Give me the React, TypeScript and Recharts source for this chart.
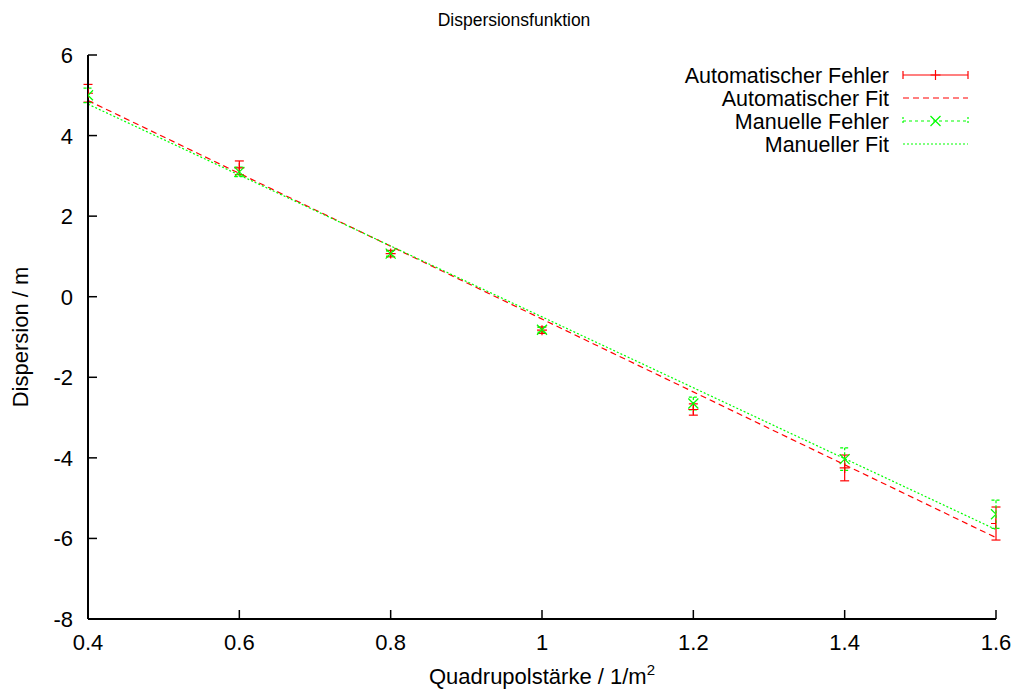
import React from "react";
import { ComposedChart, ErrorBar, Line, Scatter, XAxis, YAxis } from "recharts";

const staerke = [0.4, 0.6, 0.8, 1.0, 1.2, 1.4, 1.6];
const autoWerte = [5.05, 3.2, 1.07, -0.83, -2.8, -4.25, -5.63];
const autoFehler = [0.22, 0.17, 0.08, 0.08, 0.14, 0.32, 0.41];
const manuellWerte = [5.0, 3.1, 1.07, -0.82, -2.65, -4.03, -5.4];
const manuellFehler = [0.18, 0.12, 0.06, 0.06, 0.16, 0.28, 0.35];

// Fitgeraden: Endpunkte
const fitX = [0.4, 1.6];
const autoFit = [4.87, -5.98];
const manuellFit = [4.78, -5.78];

const xTicks = [0.4, 0.6, 0.8, 1, 1.2, 1.4, 1.6];
const yTicks = [-8, -6, -4, -2, 0, 2, 4, 6];

const W = 1018;
const H = 693;
const LEFT = 88;
const RIGHT = 996;
const TOP = 55;
const BOTTOM = 619;
const TICK = 9;
const FONT = "'Liberation Sans', Arial, Helvetica, sans-serif";
const RED = "#ff0000";
const GREEN = "#00ff00";

const autoDaten = staerke.map((x, i) => ({ x, y: autoWerte[i], err: autoFehler[i] }));
const manuellDaten = staerke.map((x, i) => ({ x, y: manuellWerte[i], err: manuellFehler[i] }));
const autoFitDaten = fitX.map((x, i) => ({ x, y: autoFit[i] }));
const manuellFitDaten = fitX.map((x, i) => ({ x, y: manuellFit[i] }));

function BottomTick({ x, y, payload }: any) {
  return (
    <g>
      <line x1={x} y1={y} x2={x} y2={y - TICK} stroke="#000" strokeWidth={1.5} />
      <text x={x} y={y + 31} textAnchor="middle" fontSize={22} fontFamily={FONT} fill="#000">
        {String(payload.value)}
      </text>
    </g>
  );
}

function TopTick({ x, y }: any) {
  return <line x1={x} y1={y} x2={x} y2={y + TICK} stroke="#000" strokeWidth={1.5} />;
}

function LeftTick({ x, y, payload }: any) {
  return (
    <g>
      <line x1={x} y1={y} x2={x + TICK} y2={y} stroke="#000" strokeWidth={1.5} />
      <text x={x - 15} y={y + 8} textAnchor="end" fontSize={22} fontFamily={FONT} fill="#000">
        {String(payload.value)}
      </text>
    </g>
  );
}

function RightTick({ x, y }: any) {
  return <line x1={x} y1={y} x2={x - TICK} y2={y} stroke="#000" strokeWidth={1.5} />;
}

function Plus({ cx, cy }: any) {
  const s = 5;
  return <path d={`M${cx - s},${cy}H${cx + s}M${cx},${cy - s}V${cy + s}`} stroke={RED} strokeWidth={1.2} fill="none" />;
}

function Kreuz({ cx, cy }: any) {
  const s = 5;
  return (
    <path
      d={`M${cx - s},${cy - s}L${cx + s},${cy + s}M${cx - s},${cy + s}L${cx + s},${cy - s}`}
      stroke={GREEN}
      strokeWidth={1.2}
      fill="none"
    />
  );
}

const legende = [
  { label: "Automatischer Fehler", color: RED, dash: undefined, marker: "plus", caps: true },
  { label: "Automatischer Fit", color: RED, dash: "6 4", marker: null, caps: false },
  { label: "Manuelle Fehler", color: GREEN, dash: "3 3", marker: "kreuz", caps: true },
  { label: "Manueller Fit", color: GREEN, dash: "2 2", marker: null, caps: false },
];

function Overlay() {
  const x1 = 903;
  const x2 = 968;
  return (
    <svg width={W} height={H} style={{ position: "absolute", left: 0, top: 0, pointerEvents: "none" }}>
      <text x={514} y={26} textAnchor="middle" fontSize={17.5} fontFamily={FONT}>
        Dispersionsfunktion
      </text>
      <text x={(LEFT + RIGHT) / 2} y={684} textAnchor="middle" fontSize={22} fontFamily={FONT}>
        Quadrupolstärke / 1/m
        <tspan fontSize={15} dy={-9}>2</tspan>
      </text>
      <text
        x={28}
        y={(TOP + BOTTOM) / 2}
        textAnchor="middle"
        fontSize={22}
        fontFamily={FONT}
        transform={`rotate(-90 28 ${(TOP + BOTTOM) / 2})`}
      >
        Dispersion / m
      </text>
      {legende.map((l, i) => {
        const cy = 75 + i * 23;
        const mx = (x1 + x2) / 2;
        return (
          <g key={l.label}>
            <text x={889} y={cy + 8} textAnchor="end" fontSize={21.5} fontFamily={FONT}>
              {l.label}
            </text>
            <line x1={x1} y1={cy} x2={x2} y2={cy} stroke={l.color} strokeWidth={1.2} strokeDasharray={l.dash} />
            {l.caps && (
              <>
                <line x1={x1} y1={cy - 4} x2={x1} y2={cy + 4} stroke={l.color} strokeWidth={1.2} strokeDasharray={l.dash ? "2 2" : undefined} />
                <line x1={x2} y1={cy - 4} x2={x2} y2={cy + 4} stroke={l.color} strokeWidth={1.2} strokeDasharray={l.dash ? "2 2" : undefined} />
              </>
            )}
            {l.marker === "plus" && <Plus cx={mx} cy={cy} />}
            {l.marker === "kreuz" && <Kreuz cx={mx} cy={cy} />}
          </g>
        );
      })}
    </svg>
  );
}

export default function App() {
  return (
    <div style={{ position: "absolute", left: 0, top: 0, width: W, height: H, background: "#fff" }}>
      <ComposedChart
        width={W}
        height={H}
        margin={{ top: TOP, right: W - RIGHT, bottom: 0, left: 0 }}
      >
        <XAxis
          dataKey="x"
          type="number"
          domain={[0.4, 1.6]}
          ticks={xTicks}
          interval={0}
          allowDataOverflow
          height={H - BOTTOM}
          tickSize={0}
          tickMargin={0}
          tickLine={false}
          tick={<BottomTick />}
          axisLine={{ stroke: "#000", strokeWidth: 2 }}
        />
        <XAxis
          xAxisId="top"
          orientation="top"
          dataKey="x"
          type="number"
          domain={[0.4, 1.6]}
          ticks={xTicks}
          interval={0}
          allowDataOverflow
          height={0}
          tickSize={0}
          tickMargin={0}
          tickLine={false}
          tick={<TopTick />}
          axisLine={{ stroke: "#000", strokeWidth: 2 }}
        />
        <YAxis
          type="number"
          domain={[-8, 6]}
          ticks={yTicks}
          interval={0}
          allowDataOverflow
          width={LEFT}
          tickSize={0}
          tickMargin={0}
          tickLine={false}
          tick={<LeftTick />}
          axisLine={{ stroke: "#000", strokeWidth: 2 }}
        />
        <YAxis
          yAxisId="right"
          orientation="right"
          type="number"
          domain={[-8, 6]}
          ticks={yTicks}
          interval={0}
          allowDataOverflow
          width={0}
          tickSize={0}
          tickMargin={0}
          tickLine={false}
          tick={<RightTick />}
          axisLine={{ stroke: "#000", strokeWidth: 2 }}
        />
        <Scatter data={autoDaten} dataKey="y" shape={<Plus />} isAnimationActive={false}>
          <ErrorBar dataKey="err" direction="y" width={4.5} stroke={RED} strokeWidth={1.2} isAnimationActive={false} />
        </Scatter>
        <Line
          data={autoFitDaten}
          dataKey="y"
          type="linear"
          stroke={RED}
          strokeWidth={1.2}
          strokeDasharray="6 4"
          dot={false}
          activeDot={false}
          isAnimationActive={false}
        />
        <Scatter data={manuellDaten} dataKey="y" shape={<Kreuz />} isAnimationActive={false}>
          <ErrorBar
            dataKey="err"
            direction="y"
            width={4.5}
            stroke={GREEN}
            strokeWidth={1.2}
            strokeDasharray="3 2"
            isAnimationActive={false}
          />
        </Scatter>
        <Line
          data={manuellFitDaten}
          dataKey="y"
          type="linear"
          stroke={GREEN}
          strokeWidth={1.2}
          strokeDasharray="2 2"
          dot={false}
          activeDot={false}
          isAnimationActive={false}
        />
      </ComposedChart>
      <Overlay />
    </div>
  );
}
